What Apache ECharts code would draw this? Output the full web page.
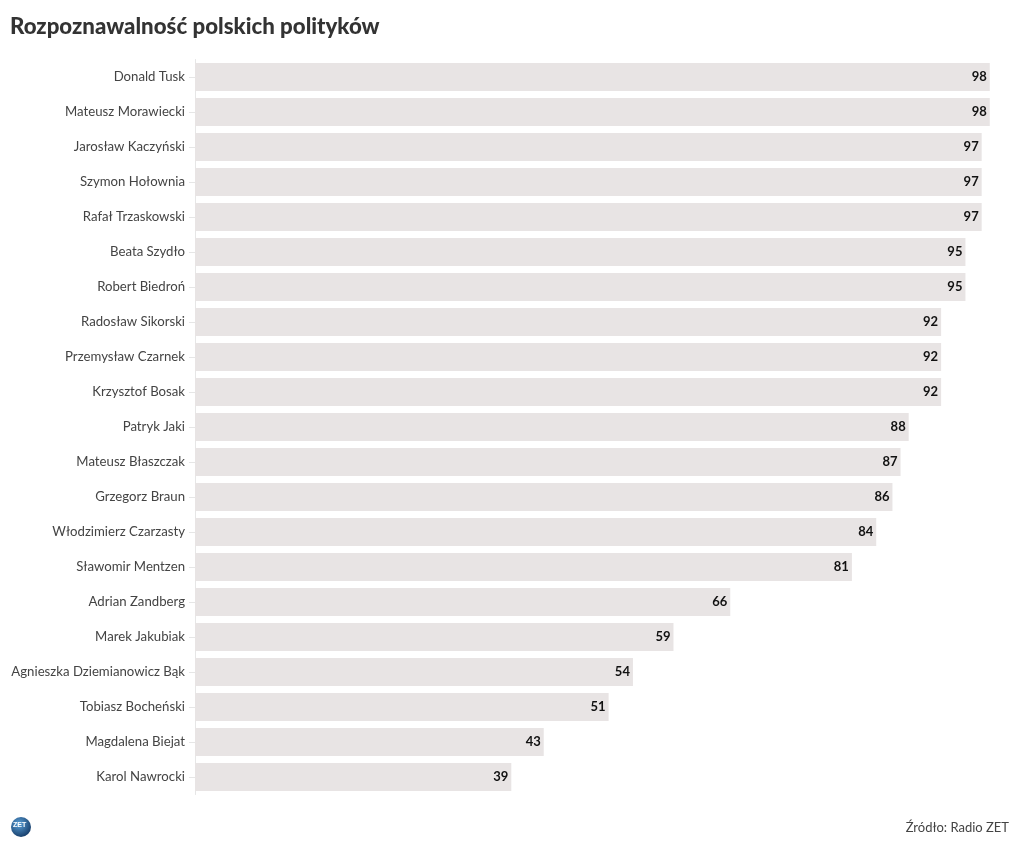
<!DOCTYPE html>
<html><head><meta charset="utf-8">
<script src="https://cdn.jsdelivr.net/npm/echarts@6/dist/echarts.min.js"></script>
<style>html,body{margin:0;padding:0;background:#fff}#c{width:1020px;height:852px}</style>
</head><body><div id="c"></div>
<script>
const categories = ["Donald Tusk","Mateusz Morawiecki","Jarosław Kaczyński","Szymon Hołownia","Rafał Trzaskowski","Beata Szydło","Robert Biedroń","Radosław Sikorski","Przemysław Czarnek","Krzysztof Bosak","Patryk Jaki","Mateusz Błaszczak","Grzegorz Braun","Włodzimierz Czarzasty","Sławomir Mentzen","Adrian Zandberg","Marek Jakubiak","Agnieszka Dziemianowicz Bąk","Tobiasz Bocheński","Magdalena Biejat","Karol Nawrocki"];
const values = [98,98,97,97,97,95,95,92,92,92,88,87,86,84,81,66,59,54,51,43,39];
const titleText = "Rozpoznawalność polskich polityków";
const sourceText = "Źródło: Radio ZET";
const font = "Lato, 'Noto Sans', sans-serif";
const chart = echarts.init(document.getElementById('c'), null, {renderer:'canvas'});
chart.setOption({
  animation:false,
  backgroundColor:'#fff',
  title:{text:titleText,left:5,top:11,textStyle:{fontFamily:font,fontSize:22.25,fontWeight:900,color:'#333'}},
  grid:{left:195,right:14,top:59.5,bottom:57.5,containLabel:false},
  xAxis:{type:'value',min:0,max:100,show:false},
  yAxis:{type:'category',data:categories,inverse:true,
    axisLine:{show:true,lineStyle:{color:'#e6e6e6'}},
    axisTick:{show:true,alignWithLabel:true,length:6,lineStyle:{color:'#e6e6e6'}},
    axisLabel:{fontFamily:font,fontSize:13.2,color:'#444',margin:10}},
  series:[{type:'bar',data:values,barCategoryGap:'20%',itemStyle:{color:'#e8e4e4'},
    label:{show:true,position:'insideRight',distance:3,fontFamily:font,fontSize:13,fontWeight:'bold',color:'#111'}}],
  graphic:[
    {type:'text',right:11,top:821,style:{text:sourceText,font:"13px "+font,fill:'#444'}},
    {type:'circle',shape:{cx:21,cy:827,r:10},style:{fill:new echarts.graphic.RadialGradient(0.4,0.35,0.7,[{offset:0,color:'#5aa0d8'},{offset:1,color:'#143a66'}])}},
    {type:'text',left:13,top:822,style:{text:'ZET',font:"bold 7px sans-serif",fill:'#fff'}}
  ]
});
</script></body></html>
